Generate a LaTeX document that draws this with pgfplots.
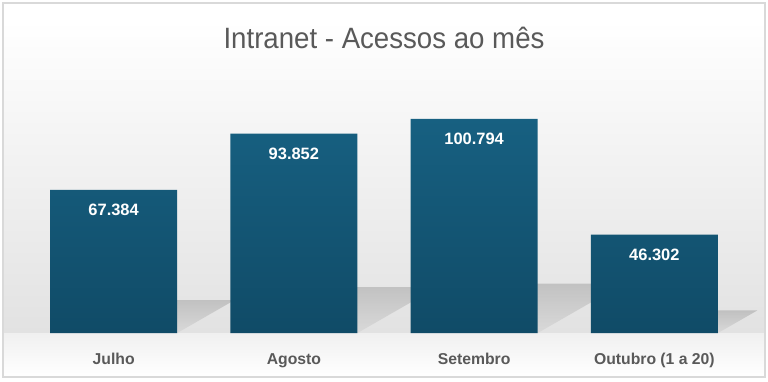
\documentclass[border=0pt]{standalone}
\usepackage{pgfplots}
\pgfplotsset{compat=1.18}
\usepackage{fontspec}
\setmainfont{Liberation Sans}
\newfontfamily\titlefont[FakeStretch=0.94]{Liberation Sans}
\definecolor{bartop}{RGB}{23,96,129}
\definecolor{barbot}{RGB}{16,75,103}
\definecolor{txtgray}{RGB}{89,89,89}
\definecolor{bggray}{RGB}{226,226,226}
\definecolor{floorgray}{RGB}{240,240,240}
\definecolor{bordergray}{RGB}{217,217,217}
\definecolor{shtop}{RGB}{140,140,140}
\definecolor{shbot}{RGB}{205,205,205}
\begin{document}
\begin{tikzpicture}[x=1bp,y=1bp]
\useasboundingbox (0,0) rectangle (768,381);
\fill[white] (0,0) rectangle (768,381);
\shade[top color=white, bottom color=bggray] (3,48) rectangle (765,361);
\shade[top color=floorgray, bottom color=white] (3,4) rectangle (765,48);
\draw[line width=1.5bp, bordergray] (3,4) rectangle (765,378);
\node[anchor=base, inner sep=0pt, font=\titlefont\fontsize{29.5}{32}\selectfont, text=txtgray] at (384,333) {Intranet - Acessos ao mês};
\begin{axis}[at={(23.5bp,48bp)}, anchor=south west, scale only axis,
  width=721bp, height=272bp,
  xmin=-0.5, xmax=3.5, ymin=0, ymax=128000,
  enlargelimits=false, clip=false,
  axis line style={draw=none}, major tick length=0pt,
  ytick=\empty,
  xtick={0,1,2,3},
  xticklabels={Julho, Agosto, Setembro, Outubro (1 a 20)},
  xticklabel style={anchor=base, yshift=-31bp, font=\bfseries\fontsize{15.8}{17}\selectfont, text=txtgray},
  shadow/.style={draw=none, top color=shtop, bottom color=shbot, opacity=0.4},
]
% perspective shadows behind the bars
\addplot[shadow] coordinates {(-0.3528,0) (0.3528,0) (0.6708,15498) (-0.0348,15498)} -- cycle;
\addplot[shadow] coordinates {(0.6472,0) (1.3528,0) (1.7958,21586) (1.0902,21586)} -- cycle;
\addplot[shadow] coordinates {(1.6472,0) (2.3528,0) (2.8288,23183) (2.1232,23183)} -- cycle;
\addplot[shadow] coordinates {(2.6472,0) (3.3528,0) (3.5718,10649) (2.8662,10649)} -- cycle;
% bars
\addplot[ybar, bar width=127bp, draw=none, top color=bartop, bottom color=barbot,
  point meta=explicit symbolic,
  nodes near coords,
  every node near coord/.append style={anchor=north, inner sep=0pt, yshift=-14bp,
     font=\bfseries\fontsize{16.5}{18}\selectfont, text=white},
] coordinates {
  (0,67384) [67.384]
  (1,93852) [93.852]
  (2,100794) [100.794]
  (3,46302) [46.302]
};
\end{axis}
\end{tikzpicture}
\end{document}
